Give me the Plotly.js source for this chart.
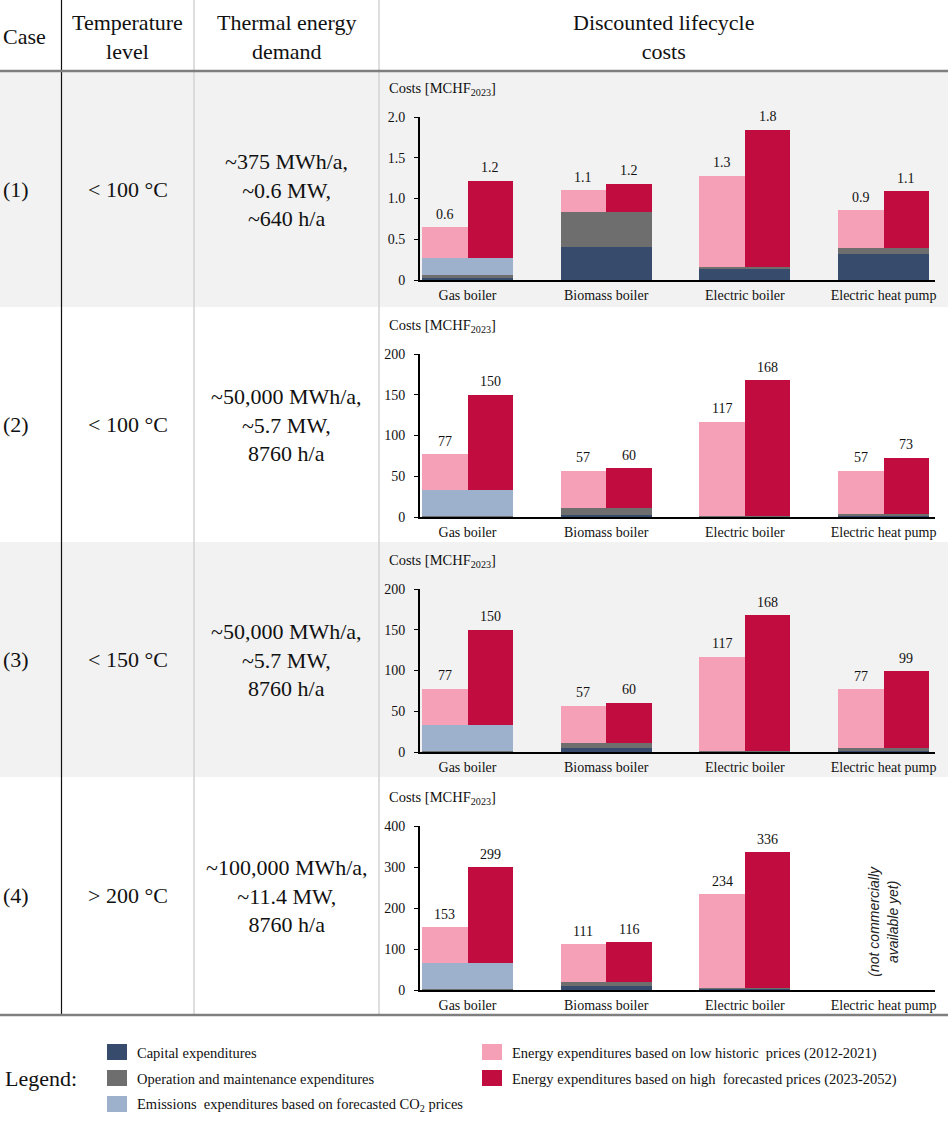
<!DOCTYPE html>
<html>
<head>
<meta charset="utf-8">
<script src="https://cdn.plot.ly/plotly-3.0.1.min.js"></script>
<style>html,body{margin:0;padding:0;background:#fff;}#chart{width:948px;height:1122px;}</style>
</head>
<body>
<div id="chart"></div>
<script>
// ---------- DATA ----------
const categories = ['Gas boiler', 'Biomass boiler', 'Electric boiler', 'Electric heat pump'];
const caseIds = ['(1)', '(2)', '(3)', '(4)'];
const tempLevels = ['< 100 °C', '< 100 °C', '< 150 °C', '> 200 °C'];
const demands = [
  '~375 MWh/a,<br>~0.6 MW,<br>~640 h/a',
  '~50,000 MWh/a,<br>~5.7 MW,<br>8760 h/a',
  '~50,000 MWh/a,<br>~5.7 MW,<br>8760 h/a',
  '~100,000 MWh/a,<br>~11.4 MW,<br>8760 h/a'
];
const headers = ['Case', 'Temperature<br>level', 'Thermal energy<br>demand', 'Discounted lifecycle<br>costs'];

// Case 1 (MCHF2023)
const capex1 = [0.03, 0.41, 0.13, 0.315];
const om1    = [0.035, 0.42, 0.025, 0.075];
const emis1  = [0.21, 0, 0, 0];
const low1   = [0.37, 0.27, 1.125, 0.465];
const high1  = [0.94, 0.35, 1.69, 0.70];
const lowLabels1  = ['0.6', '1.1', '1.3', '0.9'];
const highLabels1 = ['1.2', '1.2', '1.8', '1.1'];

// Case 2
const capex2 = [0.4, 3, 0.5, 1];
const om2    = [0.4, 8.4, 1.1, 2.3];
const emis2  = [31.9, 0, 0, 0];
const low2   = [44.3, 45.6, 115.4, 53.4];
const high2  = [117.3, 48.4, 166.4, 69.7];
const lowLabels2  = ['77', '57', '117', '57'];
const highLabels2 = ['150', '60', '168', '73'];

// Case 3
const capex3 = [0.4, 4.5, 0.5, 1.6];
const om3    = [0.4, 6.9, 1.1, 2.9];
const emis3  = [31.8, 0, 0, 0];
const low3   = [44.9, 45.2, 115.4, 72.3];
const high3  = [117.4, 49.1, 166.4, 94.5];
const lowLabels3  = ['77', '57', '117', '77'];
const highLabels3 = ['150', '60', '168', '99'];

// Case 4
const capex4 = [0.8, 9, 1.5, null];
const om4    = [0.8, 11.4, 4.2, null];
const emis4  = [63.4, 0, 0, null];
const low4   = [88, 90.6, 228.3, null];
const high4  = [234, 95.6, 330.3, null];
const lowLabels4  = ['153', '111', '234', null];
const highLabels4 = ['299', '116', '336', null];

const yTickVals1 = [0, 0.5, 1, 1.5, 2];
const yTickText1 = ['0', '0.5', '1.0', '1.5', '2.0'];
const yTickVals2 = [0, 50, 100, 150, 200];
const yTickVals3 = [0, 50, 100, 150, 200];
const yTickVals4 = [0, 100, 200, 300, 400];

const legendLabels = [
  'Capital expenditures',
  'Operation and maintenance expenditures',
  'Emissions  expenditures based on forecasted CO<sub>2</sub> prices',
  'Energy expenditures based on low historic  prices (2012-2021)',
  'Energy expenditures based on high  forecasted prices (2023-2052)'
];
const seriesColors = ['#374b6c', '#6e6e6e', '#9db0cc', '#f5a0b6', '#c00c3f'];
const unavailableNote = '(not commercially<br>available yet)';

// ---------- BUILD ----------
const cases = [
  {capex: capex1, om: om1, emis: emis1, low: low1, high: high1, lowL: lowLabels1, highL: highLabels1, tv: yTickVals1, tt: yTickText1},
  {capex: capex2, om: om2, emis: emis2, low: low2, high: high2, lowL: lowLabels2, highL: highLabels2, tv: yTickVals2, tt: yTickVals2.map(String)},
  {capex: capex3, om: om3, emis: emis3, low: low3, high: high3, lowL: lowLabels3, highL: highLabels3, tv: yTickVals3, tt: yTickVals3.map(String)},
  {capex: capex4, om: om4, emis: emis4, low: low4, high: high4, lowL: lowLabels4, highL: highLabels4, tv: yTickVals4, tt: yTickVals4.map(String)}
];

const W = 948, H = 1122;
const PX = x => x / W;
const PY = y => 1 - y / H;
const SERIF = 'Liberation Serif, Times New Roman, serif';
const rowTop = [117, 354, 589, 826];
const rowZero = [280, 517, 752, 990];
const rowBand = [[72, 307], [307, 542], [542, 777], [777, 1014]];
const D = 0.164, BW = 0.328;

const traces = [];
const annotations = [];
const shapes = [];
const layout = {
  width: W, height: H,
  margin: {l: 0, r: 0, t: 0, b: 0},
  paper_bgcolor: '#ffffff',
  plot_bgcolor: 'rgba(0,0,0,0)',
  barmode: 'stack',
  showlegend: false,
  font: {family: SERIF, color: '#111'}
};

cases.forEach((c, i) => {
  const s = i === 0 ? '' : String(i + 1);
  const xa = 'x' + s, ya = 'y' + s;
  const both = [];
  categories.forEach((cat, j) => {
    if (c.capex[j] === null) return;
    both.push(j);
  });
  const xsBoth = [];
  both.forEach(j => { xsBoth.push(j - D, j + D); });
  const dup = arr => { const o = []; both.forEach(j => { o.push(arr[j], arr[j]); }); return o; };
  [[c.capex, 0], [c.om, 1], [c.emis, 2]].forEach(([arr, k]) => {
    traces.push({type: 'bar', x: xsBoth, y: dup(arr), width: BW, xaxis: xa, yaxis: ya,
      marker: {color: seriesColors[k], line: {width: 0}}, name: legendLabels[k], hoverinfo: 'y+name'});
  });
  traces.push({type: 'bar', x: both.map(j => j - D), y: both.map(j => c.low[j]), width: BW, xaxis: xa, yaxis: ya,
    marker: {color: seriesColors[3], line: {width: 0}}, name: legendLabels[3], hoverinfo: 'y+name'});
  traces.push({type: 'bar', x: both.map(j => j + D), y: both.map(j => c.high[j]), width: BW, xaxis: xa, yaxis: ya,
    marker: {color: seriesColors[4], line: {width: 0}}, name: legendLabels[4], hoverinfo: 'y+name'});

  // value labels
  both.forEach(j => {
    const base = c.capex[j] + c.om[j] + c.emis[j];
    annotations.push({xref: xa, yref: ya, x: j - D, y: base + c.low[j], text: c.lowL[j], showarrow: false,
      yanchor: 'middle', yshift: 13, font: {family: SERIF, size: 14, color: '#111'}});
    annotations.push({xref: xa, yref: ya, x: j + D, y: base + c.high[j], text: c.highL[j], showarrow: false,
      yanchor: 'middle', yshift: 13, font: {family: SERIF, size: 14, color: '#111'}});
  });

  layout['xaxis' + s] = {
    domain: [PX(420), PX(935)], range: [-0.3425, 3.371], anchor: ya,
    tickmode: 'array', tickvals: categories.map((_, j) => j), ticktext: categories,
    showline: true, linecolor: '#000', linewidth: 2, ticks: '', showgrid: false, zeroline: false,
    tickfont: {family: SERIF, size: 14, color: '#111'}, ticklabelstandoff: 1, fixedrange: true
  };
  layout['yaxis' + s] = {
    domain: [PY(rowZero[i]), PY(rowTop[i])], range: [0, c.tv[c.tv.length - 1]], anchor: xa,
    tickmode: 'array', tickvals: c.tv, ticktext: c.tt,
    showline: true, linecolor: '#000', linewidth: 2, ticks: 'outside', ticklen: 4, tickwidth: 1, tickcolor: '#000',
    showgrid: false, zeroline: false, tickfont: {family: SERIF, size: 14, color: '#111'}, ticklabelstandoff: 6, fixedrange: true
  };

  // "Costs" label
  annotations.push({xref: 'paper', yref: 'paper', x: PX(387), y: PY(rowTop[i] - 28), xanchor: 'left', yanchor: 'middle',
    text: 'Costs [MCHF<sub>2023</sub>]', showarrow: false, font: {family: SERIF, size: 14.5, color: '#111'}});

  // row backgrounds
  if (i % 2 === 0) {
    shapes.push({type: 'rect', xref: 'paper', yref: 'paper', x0: 0, x1: 1, y0: PY(rowBand[i][1]), y1: PY(rowBand[i][0]),
      fillcolor: '#f2f2f2', line: {width: 0}, layer: 'below'});
  }
  const cy = PY((rowBand[i][0] + rowBand[i][1]) / 2);
  annotations.push({xref: 'paper', yref: 'paper', x: PX(1), y: cy, xanchor: 'left', yanchor: 'middle', text: caseIds[i],
    showarrow: false, font: {family: SERIF, size: 22, color: '#111'}});
  annotations.push({xref: 'paper', yref: 'paper', x: PX(128), y: cy, xanchor: 'center', yanchor: 'middle', text: tempLevels[i],
    showarrow: false, font: {family: SERIF, size: 22, color: '#111'}});
  annotations.push({xref: 'paper', yref: 'paper', x: PX(286.5), y: cy, xanchor: 'center', yanchor: 'middle', text: demands[i],
    showarrow: false, font: {family: SERIF, size: 22, color: '#111'}});
});

// not available note (case 4, heat pump)
annotations.push({xref: 'x4', yref: 'y4 domain', x: 3, y: 0.42, text: '<i>' + unavailableNote + '</i>', textangle: -90,
  showarrow: false, font: {family: 'Liberation Sans, Arial, sans-serif', size: 14, color: '#222'}});

// header texts
const headerX = [1, 128, 286.5, 663];
headers.forEach((h, k) => {
  annotations.push({xref: 'paper', yref: 'paper', x: PX(headerX[k]), y: PY(37), xanchor: k === 0 ? 'left' : 'center', yanchor: 'middle',
    text: h, showarrow: false, font: {family: SERIF, size: 22, color: '#111'}});
});

// table lines
shapes.push({type: 'line', xref: 'paper', yref: 'paper', x0: PX(194), x1: PX(194), y0: PY(0), y1: PY(1014), line: {color: '#d3d3d3', width: 1.5}});
shapes.push({type: 'line', xref: 'paper', yref: 'paper', x0: PX(379), x1: PX(379), y0: PY(0), y1: PY(1014), line: {color: '#d3d3d3', width: 1.5}});
shapes.push({type: 'line', xref: 'paper', yref: 'paper', x0: PX(61.5), x1: PX(61.5), y0: PY(0), y1: PY(1014), line: {color: '#111', width: 1.2}});
shapes.push({type: 'line', xref: 'paper', yref: 'paper', x0: 0, x1: 1, y0: PY(71), y1: PY(71), line: {color: '#7f7f7f', width: 2.5}});
shapes.push({type: 'line', xref: 'paper', yref: 'paper', x0: 0, x1: 1, y0: PY(1015), y1: PY(1015), line: {color: '#7f7f7f', width: 2.5}});

// legend
annotations.push({xref: 'paper', yref: 'paper', x: PX(3), y: PY(1078), xanchor: 'left', yanchor: 'middle', text: 'Legend:',
  showarrow: false, font: {family: SERIF, size: 22, color: '#111'}});
const legX = [107, 107, 107, 482, 482];
const legY = [1044, 1070, 1096, 1044, 1070];
legendLabels.forEach((lab, k) => {
  shapes.push({type: 'rect', xref: 'paper', yref: 'paper', x0: PX(legX[k]), x1: PX(legX[k] + 20), y0: PY(legY[k] + 16), y1: PY(legY[k]),
    fillcolor: seriesColors[k], line: {width: 0}});
  annotations.push({xref: 'paper', yref: 'paper', x: PX(legX[k] + 28), y: PY(legY[k] + 9), xanchor: 'left', yanchor: 'middle',
    text: lab, showarrow: false, font: {family: SERIF, size: 14.5, color: '#111'}});
});

layout.shapes = shapes;
layout.annotations = annotations;

Plotly.newPlot('chart', traces, layout, {displayModeBar: false, staticPlot: true});
</script>
</body>
</html>
